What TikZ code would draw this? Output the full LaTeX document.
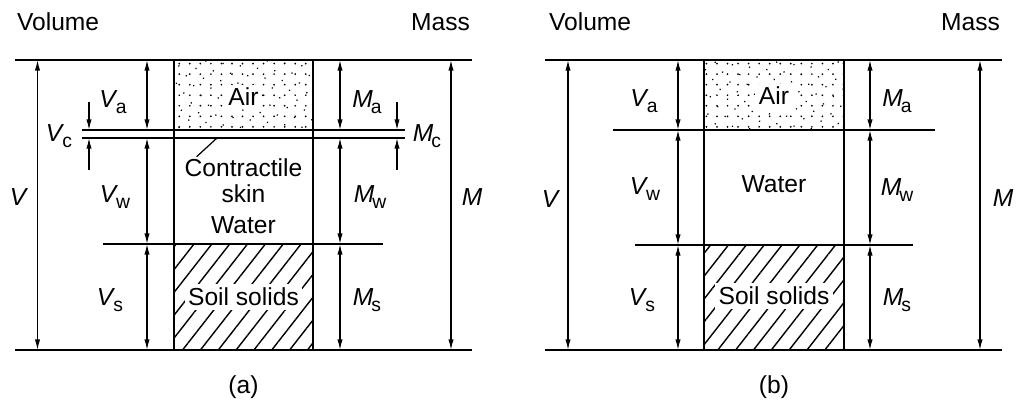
\documentclass[tikz,border=0pt]{standalone}
\usepackage{fontspec}
\setmainfont{Liberation Sans}
\usetikzlibrary{arrows.meta,patterns.meta}
\tikzset{
  rule/.style={line width=1pt},
  dim/.style={{Latex[length=6pt,width=3pt]}-{Latex[length=6pt,width=3pt]},line width=0.7pt},
  ptr/.style={-{Latex[length=6pt,width=3pt]},line width=0.7pt},
  lead/.style={line width=0.7pt},
  txt/.style={font=\fontsize{14}{15}\selectfont,inner sep=1pt},
  blank/.style={txt,fill=white,inner sep=2pt},
  airdots/.style={pattern={Dots[distance=6pt,radius=0.55pt]}},
  airdots2/.style={pattern={Dots[distance=7pt,radius=0.5pt,angle=37]}},
  soilhatch/.style={pattern={Lines[angle=52,distance=8pt,line width=0.8pt]}},
}
\newcommand{\sym}[2]{\textit{#1}\kern-0.08em\raisebox{-0.45ex}{\fontsize{11}{12}\selectfont #2}}

\begin{document}
\begin{tikzpicture}
\useasboundingbox (0,0) rectangle (20.34,8.02);

% (a) with contractile skin
\coordinate (a-top) at (0.3,6.82);  \coordinate (a-topR) at (9.44,6.82);
\coordinate (a-bot) at (0.3,1.02);  \coordinate (a-botR) at (9.44,1.02);
\coordinate (a-c1) at (1.64,5.42);  \coordinate (a-c1R) at (8.1,5.42);
\coordinate (a-c2) at (1.64,5.26);  \coordinate (a-c2R) at (8.1,5.26);
\coordinate (a-ws) at (2.06,3.14);  \coordinate (a-wsR) at (7.66,3.14);
\coordinate (a-V) at (0.75,0);  \coordinate (a-v) at (2.94,0);
\coordinate (a-L) at (3.48,0);  \coordinate (a-R) at (6.26,0);
\coordinate (a-m) at (6.8,0);   \coordinate (a-M) at (9.02,0);
\coordinate (a-vcu) at (1.78,5.98); \coordinate (a-vcd) at (1.78,4.62);
\coordinate (a-mcu) at (7.94,5.98); \coordinate (a-mcd) at (7.94,4.62);
\coordinate (a-lead) at (4.34,5.26);

\fill[airdots] (a-L |- a-top) rectangle (a-R |- a-c1);
\fill[airdots2] (a-L |- a-top) rectangle (a-R |- a-c1);
\fill[soilhatch] (a-L |- a-ws) rectangle (a-R |- a-bot);

\draw[rule] (a-top) -- (a-topR);
\draw[rule] (a-bot) -- (a-botR);
\draw[rule] (a-c1) -- (a-c1R);
\draw[rule] (a-c2) -- (a-c2R);
\draw[rule] (a-ws) -- (a-wsR);
\draw[rule] (a-L |- a-top) -- (a-L |- a-bot);
\draw[rule] (a-R |- a-top) -- (a-R |- a-bot);

\draw[dim] (a-V |- a-top) -- (a-V |- a-bot);
\draw[dim] (a-v |- a-top) -- (a-v |- a-c1);
\draw[dim] (a-v |- a-c2) -- (a-v |- a-ws);
\draw[dim] (a-v |- a-ws) -- (a-v |- a-bot);
\draw[dim] (a-m |- a-top) -- (a-m |- a-c1);
\draw[dim] (a-m |- a-c2) -- (a-m |- a-ws);
\draw[dim] (a-m |- a-ws) -- (a-m |- a-bot);
\draw[dim] (a-M |- a-top) -- (a-M |- a-bot);
\draw[ptr] (a-vcu) -- (a-vcu |- a-c1);
\draw[ptr] (a-vcd) -- (a-vcd |- a-c2);
\draw[ptr] (a-mcu) -- (a-mcu |- a-c1);
\draw[ptr] (a-mcd) -- (a-mcd |- a-c2);

\node[txt,anchor=west] (a-vol) at (0.3,7.58) {Volume};
\node[txt,anchor=east] (a-mass) at (9.44,7.58) {Mass};
\node[txt] (a-Vlab) at (0.38,4.08) {\textit{V}};
\node[txt] (a-Mlab) at (9.44,4.08) {\textit{M}};
\node[txt] (a-Va) at (2.26,5.98) {\sym{V}{a}};
\node[txt] (a-Vc) at (1.18,5.3) {\sym{V}{c}};
\node[txt] (a-Vw) at (2.3,4.08) {\sym{V}{w}};
\node[txt] (a-Vs) at (2.2,2.02) {\sym{V}{s}};
\node[txt] (a-Ma) at (7.34,5.98) {\sym{M}{a}};
\node[txt] (a-Mc) at (8.54,5.3) {\sym{M}{c}};
\node[txt] (a-Mw) at (7.4,4.08) {\sym{M}{w}};
\node[txt] (a-Ms) at (7.34,2.02) {\sym{M}{s}};
\node[blank] (a-air) at (4.87,6.08) {Air};
\node[txt,align=center] (a-skin) at (4.87,4.4) {Contractile\\skin};
\node[txt] (a-water) at (4.87,3.52) {Water};
\node[blank] (a-soil) at (4.87,2.08) {Soil solids};
\node[txt] (a-cap) at (4.87,0.28) {(a)};
\draw[lead] ([xshift=8pt]a-skin.north west) -- (a-lead);

% (b) without skin
\begin{scope}[xshift=10.6cm]
\coordinate (b-top) at (0.3,6.82);  \coordinate (b-topR) at (9.44,6.82);
\coordinate (b-bot) at (0.3,1.02);  \coordinate (b-botR) at (9.44,1.02);
\coordinate (b-aw) at (1.66,5.42);  \coordinate (b-awR) at (8.1,5.42);
\coordinate (b-ws) at (2.1,3.12);   \coordinate (b-wsR) at (7.66,3.12);
\coordinate (b-V) at (0.76,0);  \coordinate (b-v) at (2.96,0);
\coordinate (b-L) at (3.48,0);  \coordinate (b-R) at (6.28,0);
\coordinate (b-m) at (6.8,0);   \coordinate (b-M) at (9.0,0);

\fill[airdots] (b-L |- b-top) rectangle (b-R |- b-aw);
\fill[airdots2] (b-L |- b-top) rectangle (b-R |- b-aw);
\fill[soilhatch] (b-L |- b-ws) rectangle (b-R |- b-bot);

\draw[rule] (b-top) -- (b-topR);
\draw[rule] (b-bot) -- (b-botR);
\draw[rule] (b-aw) -- (b-awR);
\draw[rule] (b-ws) -- (b-wsR);
\draw[rule] (b-L |- b-top) -- (b-L |- b-bot);
\draw[rule] (b-R |- b-top) -- (b-R |- b-bot);

\draw[dim] (b-V |- b-top) -- (b-V |- b-bot);
\draw[dim] (b-v |- b-top) -- (b-v |- b-aw);
\draw[dim] (b-v |- b-aw) -- (b-v |- b-ws);
\draw[dim] (b-v |- b-ws) -- (b-v |- b-bot);
\draw[dim] (b-m |- b-top) -- (b-m |- b-aw);
\draw[dim] (b-m |- b-aw) -- (b-m |- b-ws);
\draw[dim] (b-m |- b-ws) -- (b-m |- b-bot);
\draw[dim] (b-M |- b-top) -- (b-M |- b-bot);

\node[txt,anchor=west] (b-vol) at (0.34,7.58) {Volume};
\node[txt,anchor=east] (b-mass) at (9.44,7.58) {Mass};
\node[txt] (b-Vlab) at (0.42,4.04) {\textit{V}};
\node[txt] (b-Mlab) at (9.46,4.06) {\textit{M}};
\node[txt] (b-Va) at (2.28,6.0) {\sym{V}{a}};
\node[txt] (b-Vw) at (2.3,4.24) {\sym{V}{w}};
\node[txt] (b-Vs) at (2.24,2.02) {\sym{V}{s}};
\node[txt] (b-Ma) at (7.34,6.0) {\sym{M}{a}};
\node[txt] (b-Mw) at (7.34,4.22) {\sym{M}{w}};
\node[txt] (b-Ms) at (7.34,2.02) {\sym{M}{s}};
\node[blank] (b-air) at (4.88,6.1) {Air};
\node[txt] (b-water) at (4.88,4.34) {Water};
\node[blank] (b-soil) at (4.88,2.1) {Soil solids};
\node[txt] (b-cap) at (4.88,0.28) {(b)};
\end{scope}
\end{tikzpicture}
\end{document}
